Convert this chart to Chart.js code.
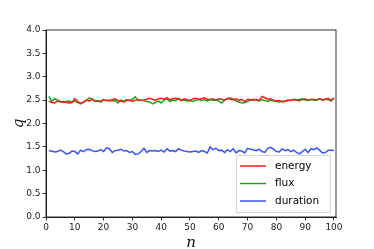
<!DOCTYPE html>
<html>
<head>
<meta charset="utf-8">
<script src="https://cdn.jsdelivr.net/npm/chart.js@4"></script>
<style>
  html, body { margin: 0; padding: 0; background: #fff; }
  #wrap { width: 374px; height: 249px; }
</style>
</head>
<body>
<div id="wrap"><canvas id="chart" width="374" height="249"></canvas></div>
<script>
var nValues = [];
for (var i = 1; i <= 100; i++) nValues.push(i);

var energy = [2.48, 2.45, 2.44, 2.48, 2.46, 2.47, 2.45, 2.44, 2.45, 2.53,
  2.47, 2.43, 2.46, 2.50, 2.48, 2.52, 2.49, 2.47, 2.48, 2.50,
  2.49, 2.48, 2.51, 2.53, 2.49, 2.48, 2.46, 2.49, 2.50, 2.47,
  2.50, 2.51, 2.49, 2.50, 2.52, 2.54, 2.52, 2.50, 2.53, 2.54,
  2.52, 2.55, 2.51, 2.53, 2.54, 2.52, 2.50, 2.53, 2.51, 2.49,
  2.53, 2.54, 2.51, 2.53, 2.55, 2.52, 2.51, 2.53, 2.50, 2.53,
  2.52, 2.50, 2.54, 2.52, 2.51, 2.53, 2.50, 2.51, 2.47, 2.52,
  2.51, 2.50, 2.52, 2.49, 2.58, 2.55, 2.52, 2.53, 2.50, 2.48,
  2.49, 2.46, 2.48, 2.50, 2.49, 2.51, 2.50, 2.52, 2.51, 2.53,
  2.50, 2.51, 2.52, 2.50, 2.53, 2.51, 2.52, 2.54, 2.50, 2.54];

var flux = [2.58, 2.47, 2.53, 2.50, 2.47, 2.45, 2.47, 2.48, 2.46, 2.48,
  2.45, 2.42, 2.45, 2.49, 2.55, 2.52, 2.47, 2.49, 2.46, 2.51,
  2.49, 2.50, 2.48, 2.49, 2.44, 2.50, 2.48, 2.51, 2.49, 2.52,
  2.57, 2.49, 2.50, 2.49, 2.47, 2.46, 2.42, 2.45, 2.48, 2.44,
  2.50, 2.53, 2.47, 2.50, 2.49, 2.54, 2.49, 2.50, 2.48, 2.49,
  2.47, 2.50, 2.52, 2.49, 2.51, 2.48, 2.52, 2.49, 2.50, 2.48,
  2.44, 2.50, 2.53, 2.55, 2.52, 2.48, 2.46, 2.44, 2.45, 2.47,
  2.50, 2.52, 2.50, 2.48, 2.51, 2.49, 2.47, 2.50, 2.48, 2.47,
  2.46, 2.48, 2.47, 2.49, 2.50, 2.52, 2.51, 2.48, 2.53, 2.50,
  2.49, 2.52, 2.50, 2.51, 2.53, 2.50, 2.52, 2.51, 2.48, 2.55];

var duration = [1.41, 1.41, 1.39, 1.40, 1.43, 1.40, 1.35, 1.36, 1.41, 1.40,
  1.35, 1.43, 1.40, 1.44, 1.45, 1.42, 1.40, 1.41, 1.44, 1.40,
  1.48, 1.46, 1.38, 1.42, 1.43, 1.45, 1.41, 1.42, 1.38, 1.40,
  1.34, 1.35, 1.40, 1.47, 1.38, 1.42, 1.41, 1.42, 1.40, 1.43,
  1.39, 1.46, 1.41, 1.42, 1.40, 1.46, 1.43, 1.41, 1.40, 1.39,
  1.40, 1.41, 1.38, 1.42, 1.40, 1.37, 1.50, 1.44, 1.47, 1.42,
  1.43, 1.38, 1.44, 1.40, 1.46, 1.37, 1.42, 1.41, 1.37, 1.47,
  1.45, 1.44, 1.42, 1.45, 1.40, 1.38, 1.47, 1.49, 1.45, 1.40,
  1.39, 1.46, 1.42, 1.44, 1.40, 1.43, 1.38, 1.35, 1.40, 1.45,
  1.38, 1.46, 1.44, 1.48, 1.43, 1.37, 1.38, 1.43, 1.43, 1.42];

var seriesNames = ['energy', 'flux', 'duration'];
var seriesColors = ['rgb(245,30,30)', 'rgb(30,165,20)', 'rgb(55,85,255)'];
var xTicks = [0, 10, 20, 30, 40, 50, 60, 70, 80, 90, 100];
var yTicks = [0.0, 0.5, 1.0, 1.5, 2.0, 2.5, 3.0, 3.5, 4.0];

function pts(arr) {
  return arr.map(function (v, i) { return { x: nValues[i], y: v }; });
}

var tickFont = { family: 'DejaVu Sans', size: 9 };

// frame around the plot area
var framePlugin = {
  id: 'frame',
  afterDraw: function (chart) {
    var a = chart.chartArea, c = chart.ctx;
    c.save();
    c.strokeStyle = '#000';
    c.lineWidth = 0.8;
    c.strokeRect(a.left, a.top, a.right - a.left, a.bottom - a.top);
    c.restore();
  }
};

// legend box in the lower right corner
var boxLegend = {
  id: 'boxLegend',
  afterDraw: function (chart) {
    var c = chart.ctx;
    var x0 = 236, y0 = 155, w = 94, h = 57;
    c.save();
    c.fillStyle = 'rgba(255,255,255,0.85)';
    c.strokeStyle = '#d6d6d6';
    c.lineWidth = 1;
    c.beginPath();
    c.rect(x0 + 0.5, y0 + 0.5, w, h);
    c.fill();
    c.stroke();
    c.font = '10.5px "DejaVu Sans"';
    c.textBaseline = 'middle';
    chart.data.datasets.forEach(function (ds, i) {
      var y = y0 + 11 + i * 17.5;
      c.strokeStyle = ds.borderColor;
      c.lineWidth = 1.5;
      c.beginPath();
      c.moveTo(240, y);
      c.lineTo(266, y);
      c.stroke();
      c.fillStyle = '#000';
      c.fillText(ds.label, 275, y);
    });
    c.restore();
  }
};

new Chart(document.getElementById('chart'), {
  type: 'line',
  data: {
    datasets: seriesNames.map(function (name, i) {
      return {
        label: name,
        data: pts([energy, flux, duration][i]),
        borderColor: seriesColors[i],
        borderWidth: 1.5,
        pointRadius: 0,
        tension: 0,
        fill: false
      };
    })
  },
  options: {
    responsive: false,
    animation: false,
    layout: { padding: { top: 30, right: 38, left: 0, bottom: 0 } },
    plugins: { legend: { display: false }, tooltip: { enabled: false } },
    scales: {
      x: {
        type: 'linear',
        min: 0,
        max: 100.7,
        afterBuildTicks: function (s) { s.ticks = xTicks.map(function (v) { return { value: v }; }); },
        afterFit: function (s) { s.height = 32; },
        grid: { drawOnChartArea: false, tickLength: 3.5, color: '#000', tickWidth: 0.8 },
        border: { color: '#000', width: 0.8 },
        ticks: { color: '#222', font: tickFont, padding: 2, maxRotation: 0,
          callback: function (v) { return v; } },
        title: { display: true, text: 'n', color: '#111',
          font: { family: 'DejaVu Serif', style: 'italic', size: 15 }, padding: { top: 0, bottom: -3 } }
      },
      y: {
        min: 0,
        max: 4,
        afterBuildTicks: function (s) { s.ticks = yTicks.map(function (v) { return { value: v }; }); },
        afterFit: function (s) { s.width = 46; },
        grid: { drawOnChartArea: false, tickLength: 3.5, color: '#000', tickWidth: 0.8 },
        border: { color: '#000', width: 0.8 },
        ticks: { color: '#222', font: tickFont, padding: 2,
          callback: function (v) { return v.toFixed(1); } },
        title: { display: true, text: 'q', color: '#111',
          font: { family: 'DejaVu Serif', style: 'italic', size: 15 }, padding: { top: 10, bottom: 4 } }
      }
    }
  },
  plugins: [framePlugin, boxLegend]
});
</script>
</body>
</html>
